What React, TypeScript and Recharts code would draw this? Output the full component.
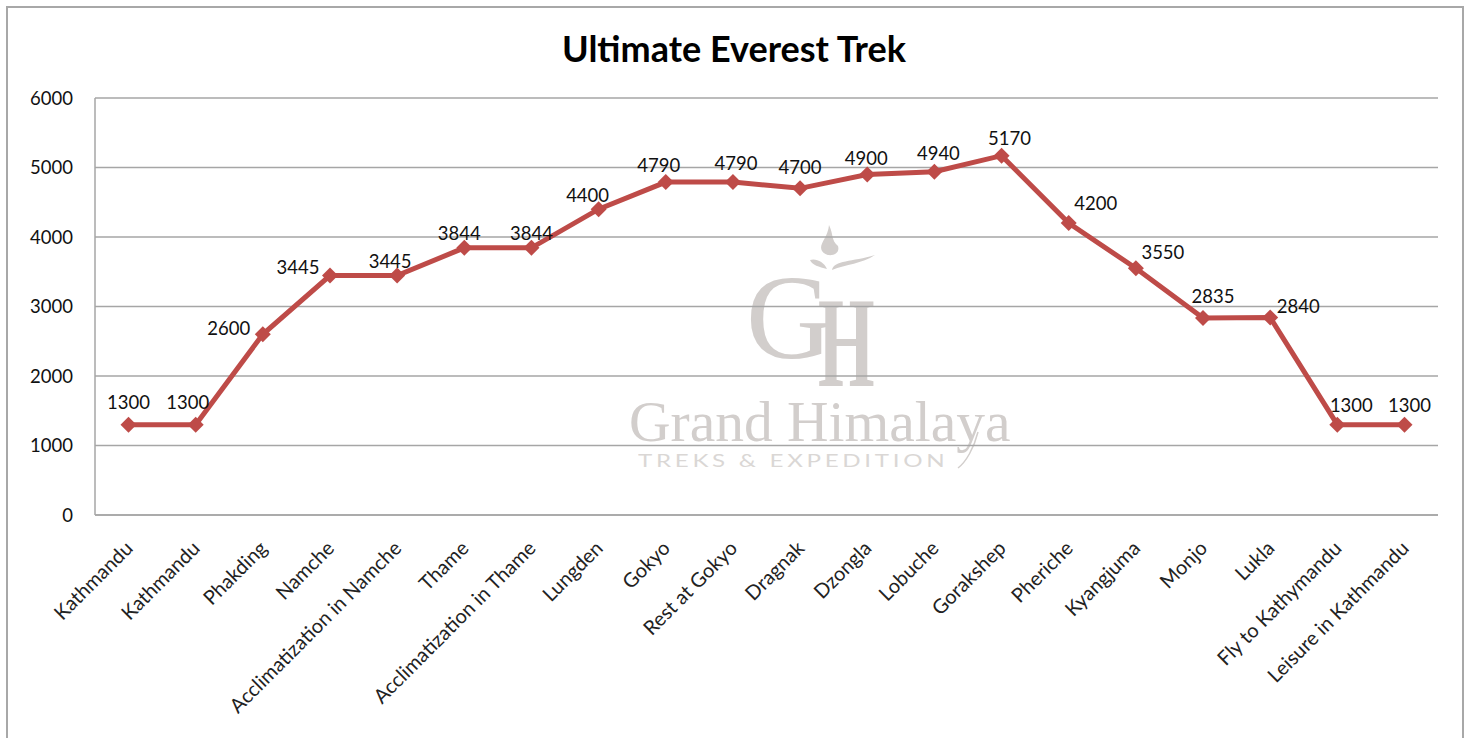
// App.tsx
import React from "react";
import { LineChart, Line, XAxis, YAxis, CartesianGrid, LabelList } from "recharts";

const stops = [
  "Kathmandu", "Kathmandu", "Phakding", "Namche", "Acclimatization in Namche",
  "Thame", "Acclimatization in Thame", "Lungden", "Gokyo", "Rest at Gokyo",
  "Dragnak", "Dzongla", "Lobuche", "Gorakshep", "Pheriche",
  "Kyangjuma", "Monjo", "Lukla", "Fly to Kathymandu", "Leisure in Kathmandu",
];
const altitudes = [
  1300, 1300, 2600, 3445, 3445, 3844, 3844, 4400, 4790, 4790,
  4700, 4900, 4940, 5170, 4200, 3550, 2835, 2840, 1300, 1300,
];
const yTicks = [0, 1000, 2000, 3000, 4000, 5000, 6000];

const data = stops.map((name, i) => ({ key: i, name, altitude: altitudes[i] }));

const FONT = "Lato, 'Open Sans', sans-serif";
const LINE_COLOR = "#BE4B48";
const AXIS_COLOR = "#A6A6A6";
const MARK_COLOR = "#D2CECC";

// label offset from its point, one pair per stop (labels were placed by hand in the original)
const labelNudge: [number, number][] = [
  [0, -20], [-8, -20], [-34, -4], [-32, -6], [-7, -12],
  [-5, -13], [0, -13], [-11, -12], [-7, -15], [3, -17],
  [0, -19], [-1, -14], [4, -16], [8, -15], [27, -18],
  [27, -14], [10, -20], [28, -9], [14, -17], [5, -17],
];

function Diamond(props: any) {
  const { cx, cy, index } = props;
  const r = 8;
  return (
    <path
      key={index}
      d={`M${cx},${cy - r}L${cx + r},${cy}L${cx},${cy + r}L${cx - r},${cy}Z`}
      fill={LINE_COLOR}
    />
  );
}

function AngledTick(props: any) {
  const { x, y, payload } = props;
  return (
    <text
      transform={`translate(${x + 2},${y + 23}) rotate(-45)`}
      textAnchor="end"
      dominantBaseline="middle"
      fontFamily={FONT}
      fontSize={20}
      fill="#222"
    >
      {payload.value}
    </text>
  );
}

function PointLabel(props: any) {
  const { x, y, value, index } = props;
  const [dx, dy] = labelNudge[index];
  return (
    <text
      x={x + dx}
      y={y + dy}
      textAnchor="middle"
      dominantBaseline="middle"
      fontFamily={FONT}
      fontSize={18.5}
      fill="#111"
    >
      {value}
    </text>
  );
}

function Watermark() {
  const serif = "'Liberation Serif', serif";
  const common: React.CSSProperties = {
    position: "absolute",
    color: MARK_COLOR,
    fontFamily: serif,
    whiteSpace: "nowrap",
    lineHeight: 1,
  };
  return (
    <>
      <svg
        width={1468}
        height={738}
        style={{ position: "absolute", left: 0, top: 0 }}
      >
        {/* flame above the monogram */}
        <path d="M829,225 C834,236 831,240 838,246 C841,256 826,258 822,251 C818,244 828,238 829,225Z" fill={MARK_COLOR} />
        <path d="M810,260 C816,258 824,262 827,269 C819,267 812,265 810,260Z" fill={MARK_COLOR} />
        <path d="M832,270 C834,260 852,262 875,255 C862,264 846,264 832,270Z" fill={MARK_COLOR} />
        {/* swash of the H */}
        <path d="M958,468 C966,462 974,448 978,432" fill="none" stroke={MARK_COLOR} strokeWidth={1.5} />
      </svg>
      <div style={{ ...common, left: 746, top: 258, fontSize: 120 }}>G</div>
      <div
        style={{
          ...common,
          left: 818,
          top: 277,
          fontSize: 130,
          fontWeight: 700,
          transform: "scaleX(0.56)",
          transformOrigin: "left top",
        }}
      >
        H
      </div>
      <div style={{ ...common, left: 629, top: 393, fontSize: 57.5 }}>Grand Himalaya</div>
      <div
        style={{
          ...common,
          left: 638,
          top: 452,
          fontSize: 17,
          letterSpacing: 2.6,
          fontFamily: FONT,
          color: "#DAD7D5",
          transform: "scaleX(1.42)",
          transformOrigin: "left top",
        }}
      >
        TREKS &amp; EXPEDITION
      </div>
    </>
  );
}

export default function App() {
  return (
    <div
      style={{
        position: "absolute",
        left: 0,
        top: 0,
        width: 1468,
        height: 738,
        background: "#fff",
        overflow: "hidden",
      }}
    >
      <div
        style={{
          position: "absolute",
          left: 6,
          top: 6,
          width: 1454,
          height: 760,
          border: "2px solid #A8A8A8",
        }}
      />
      <Watermark />
      <div
        style={{
          position: "absolute",
          left: 0,
          width: 1468,
          top: 26,
          textAlign: "center",
          fontFamily: FONT,
          fontWeight: 700,
          fontSize: 36,
          color: "#000",
          lineHeight: "44px",
        }}
      >
        Ultimate Everest Trek
      </div>
      <div style={{ position: "absolute", left: 0, top: 0 }}>
        <LineChart
          width={1468}
          height={738}
          data={data}
          margin={{ top: 98, right: 30, bottom: 0, left: 0 }}
        >
          <CartesianGrid vertical={false} stroke={AXIS_COLOR} strokeWidth={1.5} />
          <XAxis
            dataKey="key"
            height={223}
            interval={0}
            padding={{ left: 33.5, right: 33.5 }}
            tickLine={false}
            axisLine={{ stroke: AXIS_COLOR, strokeWidth: 1.5 }}
            tick={(p: any) => <AngledTick {...p} payload={{ value: stops[p.payload.value] }} />}
          />
          <YAxis
            width={95}
            domain={[0, 6000]}
            ticks={yTicks}
            tickLine={false}
            axisLine={{ stroke: AXIS_COLOR, strokeWidth: 1.5 }}
            tick={{ fontFamily: FONT, fontSize: 18.5, fill: "#111" }}
            tickMargin={16}
          />
          <Line
            dataKey="altitude"
            stroke={LINE_COLOR}
            strokeWidth={5}
            dot={Diamond}
            isAnimationActive={false}
          >
            <LabelList dataKey="altitude" content={PointLabel} />
          </Line>
        </LineChart>
      </div>
    </div>
  );
}
